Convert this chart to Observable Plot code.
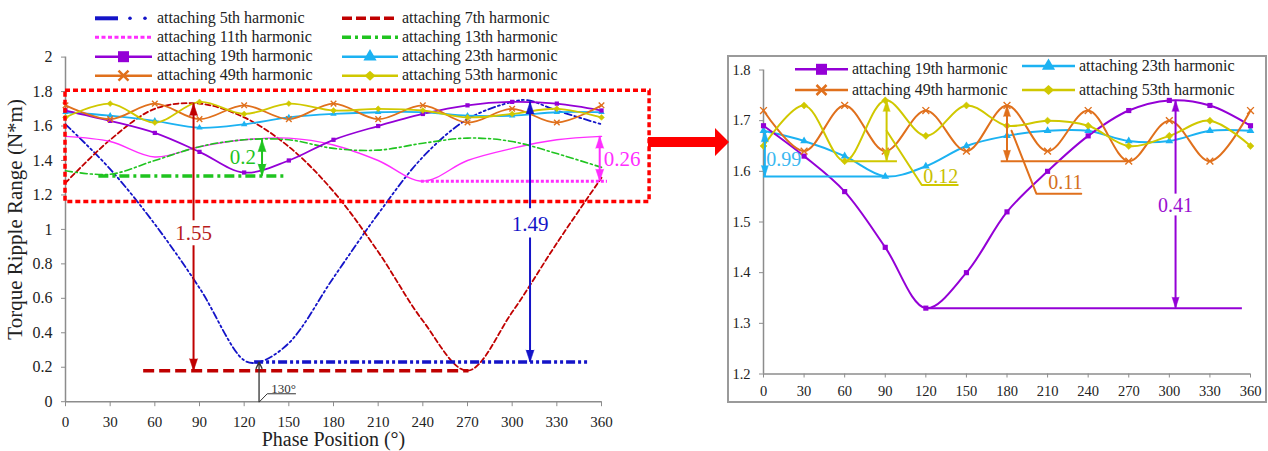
<!DOCTYPE html>
<html><head><meta charset="utf-8">
<script src="https://cdn.jsdelivr.net/npm/d3@7"></script>
<script src="https://cdn.jsdelivr.net/npm/@observablehq/plot@0.6"></script>
<style>
html,body{margin:0;padding:0;background:#fff;}
#page{position:relative;width:1268px;height:451px;overflow:hidden;background:#fff;}
#page > *{position:absolute;}
</style></head><body><div id="page"></div>
<script>
// ---------------- data ----------------
const phase  = [0,30,60,90,120,150,180,210,240,270,300,330,360];
const phase5 = [0,30,60,90,120,130,150,180,210,240,270,300,310,330,360];
const h5  = [1.61,1.35,1.03,0.66,0.24,0.23,0.34,0.72,1.09,1.42,1.64,1.74,1.75,1.69,1.61];
const h7  = [1.27,1.52,1.70,1.73,1.65,1.48,1.22,0.87,0.47,0.18,0.52,0.92,1.30];
const h11 = [1.54,1.51,1.42,1.48,1.52,1.53,1.49,1.40,1.28,1.40,1.47,1.52,1.54];
const h13 = [1.34,1.32,1.40,1.48,1.52,1.52,1.47,1.46,1.50,1.53,1.51,1.44,1.36];
const h19 = [1.69,1.63,1.56,1.45,1.33,1.40,1.52,1.60,1.67,1.72,1.74,1.73,1.69];
const h23 = [1.68,1.66,1.63,1.59,1.61,1.65,1.67,1.68,1.68,1.66,1.66,1.68,1.68];
const h49 = [1.72,1.64,1.73,1.64,1.72,1.64,1.73,1.64,1.72,1.62,1.70,1.62,1.72];
const h53 = [1.65,1.73,1.62,1.74,1.67,1.73,1.69,1.70,1.69,1.65,1.67,1.70,1.65];

const xTicks  = [0,30,60,90,120,150,180,210,240,270,300,330,360];
const yTicksL = [0,0.2,0.4,0.6,0.8,1,1.2,1.4,1.6,1.8,2];
const yTicksR = [1.2,1.3,1.4,1.5,1.6,1.7,1.8];
const yTitle = "Torque Ripple Range (N*m)";
const xTitle = "Phase Position (°)";
const keys  = ["5","7","11","13","19","23","49","53"];
const names = ["attaching 5th harmonic","attaching 7th harmonic","attaching 11th harmonic","attaching 13th harmonic",
               "attaching 19th harmonic","attaching 23th harmonic","attaching 49th harmonic","attaching 53th harmonic"];

// annotations (left)
const diffLeft = [
  {k:"7",  x:86,  lo:0.18, hi:1.73, gapLo:0.905, gapHi:1.05, label:"1.55", lx:86,  ly:0.977, anchor:"middle"},
  {k:"5",  x:312, lo:0.23, hi:1.74, gapLo:0.95,  gapHi:1.12, label:"1.49", lx:312, ly:1.032, anchor:"middle"},
  {k:"13", x:132, lo:1.31, hi:1.52, label:"0.2",  lx:128, ly:1.417, anchor:"end"},
  {k:"11", x:358.8, lo:1.28, hi:1.54, label:"0.26", lx:361.5, ly:1.408, anchor:"start"}
];
const minLinesLeft = [
  {k:"7",  y:0.18, x1:52.5, x2:271, w:3.5, dash:"11,5"},
  {k:"5",  y:0.23, x1:127,  x2:352, w:3.5, dash:"9,3,3,3,3,3"},
  {k:"11", y:1.28, x1:239,  x2:364, w:3,   dash:"3,2"},
  {k:"13", y:1.31, x1:22.4, x2:148, w:3.5, dash:"10,4,3,4"}
];
const zoomBox = [{x1:0, x2:392.3, y1:1.159, y2:1.804}];
const angleMark = {x:130, y:0.23, label:"130°"};
const angleLeader = [{x:130.3,y:0},{x:135.5,y:0.046},{x:154.5,y:0.046}];

// annotations (right)
const diffRight = [
  {k:"23", x:1,     lo:1.59, hi:1.68, label:"0.99", lx:2,     ly:1.623, anchor:"start"},
  {k:"53", x:91,    lo:1.62, hi:1.74, label:"0.12", lx:118,   ly:1.590, anchor:"start"},
  {k:"49", x:180,   lo:1.62, hi:1.73, label:"0.11", lx:210.5, ly:1.577, anchor:"start"},
  {k:"19", x:304.6, lo:1.33, hi:1.74, gapLo:1.512, gapHi:1.555, label:"0.41", lx:304.6, ly:1.533, anchor:"middle"}
];
const minLinesRight = [
  {k:"23", y:1.59, x1:0,     x2:91},
  {k:"53", y:1.62, x1:59,    x2:99},
  {k:"49", y:1.62, x1:175.7, x2:269},
  {k:"19", y:1.33, x1:119.5, x2:354}
];
const leaders = [
  {k:"53", pts:[{x:91,y:1.68},{x:117,y:1.573},{x:143.6,y:1.573}]},
  {k:"49", pts:[{x:183.4,y:1.68},{x:201.7,y:1.556},{x:234.9,y:1.556}]}
];

// ---------------- styles ----------------
const SERIF = '"Liberation Serif","Times New Roman",serif';
const AX = "#8c8c8c";
const COL = {"5":"#1414c8","7":"#c00000","11":"#ff2eff","13":"#1fc41f","19":"#9400d6","23":"#1cb2f2","49":"#e0701c","53":"#d0c800"};
const LBL = {"5":"#1414c8","7":"#b81c1c","11":"#ff2eff","13":"#1fc41f","19":"#9a10d0","23":"#3cb8f0","49":"#d4701c","53":"#c8c000"};
const T = (xs, ys) => xs.map((x,i) => ({x, y: ys[i]}));
const fmt = d => String(+(+d).toFixed(1));

function arrowMarks(list, sw, len, rad) {
  const marks = [];
  for (const a of list) {
    const c = COL[a.k];
    const segs = a.gapLo != null ? [{x:a.x,y1:a.lo,y2:a.gapLo},{x:a.x,y1:a.gapHi,y2:a.hi}] : [{x:a.x,y1:a.lo,y2:a.hi}];
    marks.push(Plot.ruleX(segs, {x:"x", y1:"y1", y2:"y2", stroke:c, strokeWidth:sw}));
    marks.push(Plot.vector([{x:a.x,y:a.hi,r:0},{x:a.x,y:a.lo,r:180}],
      {x:"x", y:"y", rotate:"r", length:len, r:rad, shape:"spike", anchor:"end", fill:c, stroke:c, strokeWidth:0.5}));
    marks.push(Plot.text([a], {x:"lx", y:"ly", text:"label", textAnchor:a.anchor, fill:LBL[a.k], fontSize:a.fs || 21}));
  }
  return marks;
}

function seriesMarks(opt) {
  const {r, sw} = opt;
  return [
    Plot.line(T(phase,h23), {x:"x", y:"y", curve:"catmull-rom", stroke:COL["23"], strokeWidth:sw}),
    Plot.line(T(phase,h19), {x:"x", y:"y", curve:"catmull-rom", stroke:COL["19"], strokeWidth:sw}),
    Plot.line(T(phase,h49), {x:"x", y:"y", curve:"catmull-rom", stroke:COL["49"], strokeWidth:sw}),
    Plot.line(T(phase,h53), {x:"x", y:"y", curve:"catmull-rom", stroke:COL["53"], strokeWidth:sw}),
    Plot.dot(T(phase,h23), {x:"x", y:"y", symbol:"triangle", r:r, fill:COL["23"]}),
    Plot.dot(T(phase,h19), {x:"x", y:"y", symbol:"square", r:r, fill:COL["19"]}),
    Plot.dot(T(phase,h49), {x:"x", y:"y", symbol:"times", r:r*1.1, stroke:COL["49"], strokeWidth:1.4, fill:"none"}),
    Plot.dot(T(phase,h53), {x:"x", y:"y", symbol:"diamond2", r:r*1.1, fill:COL["53"], stroke:COL["53"], strokeWidth:0.5})
  ];
}

// ---------------- left chart ----------------
const left = Plot.plot({
  width: 727, height: 451,
  marginLeft: 65, marginRight: 126, marginTop: 56.6, marginBottom: 49.8,
  x: {domain: [0,360]},
  y: {domain: [0,2]},
  style: {fontFamily: SERIF, background: "transparent", overflow: "visible"},
  marks: [
    Plot.ruleX([0], {y1:0, y2:2, stroke:AX, strokeWidth:1.5}),
    Plot.ruleY([0], {x1:0, x2:360, stroke:AX, strokeWidth:1.5}),
    Plot.axisY({ticks:yTicksL, tickSize:4, tickPadding:9, fontSize:16, stroke:AX, fill:"#222", tickFormat:fmt, label:null}),
    Plot.axisX({ticks:xTicks, tickSize:5, tickPadding:10, fontSize:15, stroke:AX, fill:"#222", label:null}),
    Plot.text([yTitle], {text:d=>d, frameAnchor:"left", textAnchor:"middle", lineAnchor:"middle", rotate:-90, dx:-50, dy:-10, fontSize:21, fill:"#222"}),
    Plot.text([xTitle], {text:d=>d, frameAnchor:"bottom", textAnchor:"middle", lineAnchor:"middle", dy:38, fontSize:20, fill:"#222"}),
    // curves
    Plot.line(T(phase5,h5), {x:"x", y:"y", curve:"catmull-rom", stroke:COL["5"], strokeWidth:1.8, strokeDasharray:"7,3,2,3,2,3"}),
    Plot.line(T(phase,h7),  {x:"x", y:"y", curve:"catmull-rom", stroke:COL["7"], strokeWidth:1.8, strokeDasharray:"5,3"}),
    Plot.line(T(phase,h11), {x:"x", y:"y", curve:"catmull-rom", stroke:COL["11"], strokeWidth:1.4}),
    Plot.line(T(phase,h13), {x:"x", y:"y", curve:"catmull-rom", stroke:COL["13"], strokeWidth:1.6, strokeDasharray:"7,3,2,3"}),
    ...seriesMarks({r:2.4, sw:1.8}),
    // min reference lines
    ...minLinesLeft.map(m => Plot.ruleY([m], {y:"y", x1:"x1", x2:"x2", stroke:COL[m.k], strokeWidth:m.w, strokeDasharray:m.dash})),
    ...arrowMarks(diffLeft, 2, 12, 4),
    // 130° marker
    Plot.arrow([angleMark], {x1:"x", y1:0, x2:"x", y2:"y", stroke:"#333", strokeWidth:1.3, headLength:8, headAngle:50}),
    Plot.line(angleLeader, {x:"x", y:"y", stroke:"#333", strokeWidth:1}),
    Plot.text([angleMark], {x:146.5, y:0.072, text:"label", fontSize:13, fill:"#333"}),
    // zoom box
    Plot.rect(zoomBox, {x1:"x1", x2:"x2", y1:"y1", y2:"y2", fill:"none", stroke:"#ff0000", strokeWidth:3.5, strokeDasharray:"5,3"})
  ]
});
left.style.left = "0px"; left.style.top = "0px";

// ---------------- right chart ----------------
const right = Plot.plot({
  width: 538, height: 346,
  marginLeft: 35, marginRight: 16, marginTop: 13.5, marginBottom: 28.5,
  x: {domain: [0,360]},
  y: {domain: [1.2,1.8]},
  style: {fontFamily: SERIF, background: "transparent", overflow: "visible"},
  marks: [
    Plot.ruleX([0], {y1:1.2, y2:1.8, stroke:AX, strokeWidth:1.5}),
    Plot.ruleY([1.2], {x1:0, x2:360, stroke:AX, strokeWidth:1.5}),
    Plot.axisY({ticks:yTicksR, tickSize:4, tickPadding:9, fontSize:14.5, stroke:AX, fill:"#222", tickFormat:fmt, label:null}),
    Plot.axisX({ticks:xTicks, tickSize:4, tickPadding:8, fontSize:14.5, stroke:AX, fill:"#222", label:null}),
    ...seriesMarks({r:2.9, sw:2}),
    ...minLinesRight.map(m => Plot.ruleY([m], {y:"y", x1:"x1", x2:"x2", stroke:COL[m.k], strokeWidth:2})),
    ...leaders.map(l => Plot.line(l.pts, {x:"x", y:"y", stroke:COL[l.k], strokeWidth:2})),
    ...arrowMarks(diffRight.map(d => ({...d, fs:20})), 2, 11, 3.5)
  ]
});
right.style.left = "728px"; right.style.top = "56px";

// ---------------- page assembly ----------------
const page = document.getElementById("page");
const box = document.createElement("div");
Object.assign(box.style, {left:"727px", top:"55px", width:"540px", height:"348px", border:"2px solid #9a9a9a", boxSizing:"border-box"});
page.appendChild(box);
page.appendChild(left);
page.appendChild(right);

// overlay: legends + connector arrow
const ov = d3.create("svg").attr("width",1268).attr("height",451)
  .style("left","0px").style("top","0px").style("font-family",SERIF).style("overflow","visible");
ov.append("polygon").attr("points","648,137 715,137 715,128 729,142 715,156 715,147 648,147").attr("fill","#ff0000");

function swatch(g, x0, x1, y, k, fs, tx, ty) {
  const c = COL[k], mid = (x0+x1)/2;
  if (k === "5") {
    g.append("line").attr("x1",x0).attr("x2",x0+23).attr("y1",y).attr("y2",y).attr("stroke",c).attr("stroke-width",4);
    g.append("circle").attr("cx",x0+35).attr("cy",y).attr("r",1.8).attr("fill",c);
    g.append("circle").attr("cx",x0+50).attr("cy",y).attr("r",1.8).attr("fill",c);
  } else {
    const st = {"7":[3.5,"10,4"],"11":[3,"4,2.5"],"13":[3.5,"9,4,3,4"]}[k] || [2.5,null];
    g.append("line").attr("x1",x0).attr("x2",x1).attr("y1",y).attr("y2",y).attr("stroke",c)
      .attr("stroke-width",st[0]).attr("stroke-dasharray",st[1]);
    if (k === "19") g.append("rect").attr("x",mid-5.5).attr("y",y-5.5).attr("width",11).attr("height",11).attr("fill",c);
    if (k === "23") g.append("path").attr("d",d3.symbol(d3.symbolTriangle,75)()).attr("transform",`translate(${mid},${y})`).attr("fill",c);
    if (k === "49") g.append("path").attr("d",`M${mid-5},${y-5}L${mid+5},${y+5}M${mid-5},${y+5}L${mid+5},${y-5}`).attr("stroke",c).attr("stroke-width",2.5);
    if (k === "53") g.append("path").attr("d",`M${mid},${y-5}L${mid+5.5},${y}L${mid},${y+5}L${mid-5.5},${y}Z`).attr("fill",c);
  }
  g.append("text").attr("x",tx).attr("y",ty+4.5).attr("font-size",fs).attr("fill","#222").text(names[keys.indexOf(k)]);
}
const lg = ov.append("g");
const leftRows = [18.3,37.3,56.7,75.7];
[["5","7"],["11","13"],["19","23"],["49","53"]].forEach((pair,i) => {
  swatch(lg, 95, 152, leftRows[i], pair[0], 16, 157, leftRows[i]);
  swatch(lg, 342, 398, leftRows[i], pair[1], 16, 402, leftRows[i]);
});
swatch(lg, 795, 848, 69.3, "19", 16, 852, 69.3);
swatch(lg, 1022, 1075, 66, "23", 16, 1079, 66);
swatch(lg, 795, 848, 90, "49", 16, 852, 90);
swatch(lg, 1022, 1075, 90, "53", 16, 1079, 90);
page.appendChild(ov.node());
</script></body></html>
